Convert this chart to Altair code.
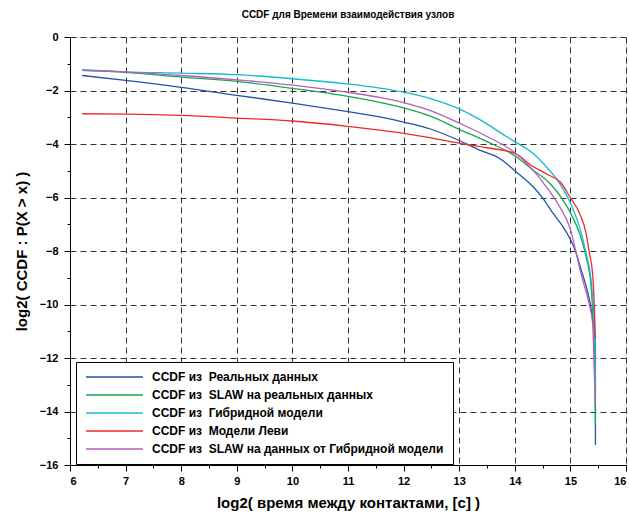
import altair as alt
import pandas as pd

FONT = "Liberation Sans"

series_names = [
    "CCDF из\u00a0 Реальных данных",
    "CCDF из\u00a0 SLAW на реальных данных",
    "CCDF из\u00a0 Гибридной модели",
    "CCDF из\u00a0 Модели Леви",
    "CCDF из\u00a0 SLAW на данных от Гибридной модели",
]
series_colors = ["#2352a6", "#14a84c", "#16b9d2", "#f02a2a", "#b95cbf"]

real_x = [6.22, 7.0, 8.0, 9.0, 10.0, 11.0, 11.57, 12.0, 12.47, 13.0, 13.37, 13.73, 14.0, 14.32, 14.5, 14.68, 14.86, 15.0, 15.1, 15.19, 15.28, 15.34, 15.4, 15.45, 15.45]
real_y = [-1.44, -1.62, -1.88, -2.18, -2.47, -2.79, -2.99, -3.18, -3.43, -3.87, -4.23, -4.54, -5.0, -5.58, -6.01, -6.57, -7.07, -7.57, -8.06, -8.68, -9.3, -9.8, -10.55, -11.7, -15.25]

slaw_x = [6.22, 7.0, 8.0, 9.0, 10.0, 11.0, 11.57, 12.0, 12.47, 13.0, 13.5, 14.0, 14.32, 14.62, 14.86, 15.0, 15.16, 15.28, 15.37, 15.41, 15.44, 15.45]
slaw_y = [-1.25, -1.32, -1.50, -1.66, -1.92, -2.22, -2.44, -2.65, -2.95, -3.45, -3.91, -4.44, -4.96, -5.45, -6.07, -6.57, -7.32, -8.19, -9.3, -10.55, -12.04, -14.45]

hybrid_x = [6.22, 7.0, 8.0, 9.0, 10.0, 11.0, 11.57, 12.0, 12.47, 13.0, 13.37, 13.85, 14.0, 14.32, 14.56, 14.8, 15.0, 15.16, 15.28, 15.37, 15.41, 15.44, 15.45]
hybrid_y = [-1.22, -1.30, -1.35, -1.41, -1.56, -1.76, -1.91, -2.06, -2.29, -2.69, -3.09, -3.72, -3.91, -4.34, -4.83, -5.45, -6.2, -7.07, -8.06, -9.06, -10.05, -11.29, -13.2]

levy_x = [6.22, 7.0, 8.0, 9.0, 10.0, 11.0, 11.57, 12.0, 12.47, 13.0, 13.5, 14.0, 14.32, 14.59, 14.83, 15.0, 15.16, 15.28, 15.34, 15.4, 15.43, 15.45]
levy_y = [-2.87, -2.88, -2.93, -3.03, -3.14, -3.34, -3.48, -3.6, -3.76, -3.97, -4.14, -4.35, -4.83, -5.14, -5.45, -6.01, -6.57, -7.32, -8.06, -8.87, -10.05, -11.3]

slawh_x = [6.22, 7.0, 8.0, 9.0, 10.0, 11.0, 11.57, 12.0, 12.47, 13.0, 13.5, 14.0, 14.32, 14.56, 14.8, 15.0, 15.13, 15.22, 15.34, 15.4, 15.43, 15.45]
slawh_y = [-1.25, -1.31, -1.44, -1.60, -1.80, -2.07, -2.26, -2.45, -2.74, -3.22, -3.72, -4.32, -4.96, -5.58, -6.32, -7.19, -8.31, -9.08, -10.0, -10.7, -12.53, -13.7]

x_ticks = list(range(6, 17))
y_ticks = list(range(-16, 1, 2))
x_minor = [v + 0.5 for v in range(6, 16)]
y_minor = list(range(-15, 0, 2))

rows = []
for name, xs, ys in zip(series_names,
                        [real_x, slaw_x, hybrid_x, levy_x, slawh_x],
                        [real_y, slaw_y, hybrid_y, levy_y, slawh_y]):
    for i, (xv, yv) in enumerate(zip(xs, ys)):
        rows.append({"series": name, "x": xv, "y": yv, "i": i})
df = pd.DataFrame(rows)

xscale = alt.Scale(domain=[6, 16], nice=False, zero=False)
yscale = alt.Scale(domain=[-16, 0], nice=False, zero=False)

lines = alt.Chart(df).mark_line(strokeWidth=1.3, interpolate="monotone").encode(
    x=alt.X("x:Q", scale=xscale,
            axis=alt.Axis(values=x_ticks, orient="bottom",
                          title="log2( время между контактами, [с] )",
                          grid=True, gridDash=[6, 4], gridColor="#333333", gridWidth=1,
                          tickSize=6, tickColor="#000000", domainColor="#000000",
                          labelFont=FONT, labelFontSize=11, labelFontWeight="bold",
                          labelColor="#000000", labelPadding=4,
                          titleFont=FONT, titleFontSize=15, titleFontWeight="bold",
                          titleColor="#000000", titlePadding=9)),
    y=alt.Y("y:Q", scale=yscale,
            axis=alt.Axis(values=y_ticks, orient="left",
                          title="log2( CCDF : P(X > x) )",
                          grid=True, gridDash=[6, 4], gridColor="#333333", gridWidth=1,
                          tickSize=6, tickColor="#000000", domainColor="#000000",
                          labelFont=FONT, labelFontSize=11, labelFontWeight="bold",
                          labelColor="#000000", labelPadding=6,
                          titleFont=FONT, titleFontSize=15, titleFontWeight="bold",
                          titleColor="#000000", titlePadding=10)),
    color=alt.Color("series:N",
                    scale=alt.Scale(domain=series_names, range=series_colors),
                    legend=alt.Legend(title=None, orient="none", legendX=6, legendY=325,
                                      fillColor="#ffffff", strokeColor="#000000",
                                      padding=9, symbolType="M-1,0H10.4", symbolSize=100,
                                      symbolStrokeWidth=1.5, labelFont=FONT,
                                      labelFontSize=12, labelFontWeight="bold",
                                      labelColor="#000000", labelLimit=400,
                                      rowPadding=6, labelOffset=55)),
    order=alt.Order("i:Q"),
)

minor = alt.Chart(df).mark_point(opacity=0).encode(
    x=alt.X("x:Q", scale=xscale,
            axis=alt.Axis(values=x_minor, orient="bottom", title=None, labels=False,
                          grid=False, domain=False, tickSize=3, tickColor="#000000")),
    y=alt.Y("y:Q", scale=yscale,
            axis=alt.Axis(values=y_minor, orient="left", title=None, labels=False,
                          grid=False, domain=False, tickSize=3, tickColor="#000000")),
)

chart = alt.layer(lines, minor).resolve_axis(x="independent", y="independent").properties(
    width=556, height=428,
    padding={"left": 70, "top": 37, "right": 3, "bottom": 53},
    autosize=alt.AutoSizeParams(type="none"),
    title=alt.TitleParams("CCDF для Времени взаимодействия узлов", font=FONT,
                          fontSize=10, fontWeight="bold", color="#000000",
                          offset=11, anchor="middle"),
).configure_view(strokeWidth=0).configure(background="#ffffff")

chart.save("out.html", embed_options={"renderer": "svg", "actions": False})
